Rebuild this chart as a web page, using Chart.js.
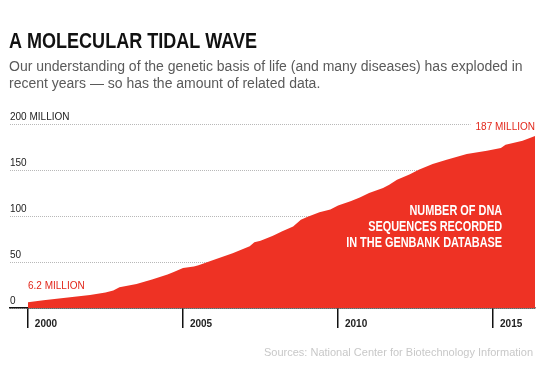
<!DOCTYPE html>
<html>
<head>
<meta charset="utf-8">
<script src="https://cdn.jsdelivr.net/npm/chart.js@4.4.1/dist/chart.umd.min.js"></script>
<style>
  html, body { margin: 0; padding: 0; background: #fff; }
  #wrap { position: relative; width: 545px; height: 380px; }
</style>
</head>
<body>
<div id="wrap"><canvas id="dnaChart" width="545" height="380"></canvas></div>
<script>
// GenBank sequences recorded (millions)
const years = [2000.0, 2000.5, 2001.0, 2001.5, 2002.0, 2002.5, 2002.75, 2002.95, 2003.5, 2003.75,
  2004.0, 2004.5, 2004.7, 2005.0, 2005.35, 2005.5, 2006.0, 2006.6, 2007.15, 2007.3,
  2007.5, 2007.9, 2008.2, 2008.55, 2008.8, 2009.0, 2009.4, 2009.75, 2010.0, 2010.4,
  2010.7, 2011.0, 2011.45, 2011.65, 2011.9, 2012.3, 2012.6, 2013.05, 2013.5, 2014.15,
  2014.8, 2015.25, 2015.4, 2015.95, 2016.35];
const sequences = [6.2, 8.3, 10.3, 12.2, 14.2, 16.8, 19.0, 22.5, 26.0, 28.5,
  31.0, 36.5, 39.0, 43.5, 45.0, 46.5, 52.5, 59.5, 67.0, 71.5,
  73.2, 78.6, 83.3, 88.5, 96.0, 99.0, 104.0, 107.0, 111.5, 116.0,
  120.0, 125.0, 130.5, 134.0, 139.5, 145.0, 150.3, 156.5, 161.2, 167.4,
  171.0, 173.9, 177.5, 181.8, 187.0];
const tickYears = [2000, 2005, 2010, 2015];
const yTicks = [0, 50, 100, 150, 200];
const yTickLabels = ['0', '50', '100', '150', '200 MILLION'];
const startLabel = '6.2 MILLION';
const endLabel = '187 MILLION';
const seriesLabel = ['NUMBER OF DNA', 'SEQUENCES RECORDED', 'IN THE GENBANK DATABASE'];

const RED = '#ee3224';
const LABEL_RED = '#e2271b';
const BOLD = 'bold {s}px "Liberation Sans", Arial, sans-serif';

// no condensed face installed, so squeeze Arial bold horizontally
function squeezed(ctx, text, x, y, sx) {
  ctx.save();
  ctx.translate(x, y);
  ctx.scale(sx, 1);
  ctx.fillText(text, 0, 0);
  ctx.restore();
}

const textLayer = {
  id: 'textLayer',
  afterDraw(chart) {
    const { ctx, chartArea, scales: { x, y } } = chart;
    ctx.save();

    // headline + dek
    ctx.textAlign = 'left';
    ctx.textBaseline = 'alphabetic';
    ctx.fillStyle = '#111';
    ctx.font = BOLD.replace('{s}', 22);
    const title = 'A MOLECULAR TIDAL WAVE';
    squeezed(ctx, title, 9, 48, 248 / ctx.measureText(title).width);
    ctx.fillStyle = '#5a5a5a';
    ctx.font = '14px "Liberation Sans", Arial, sans-serif';
    ctx.fillText('Our understanding of the genetic basis of life (and many diseases) has exploded in', 9, 71);
    ctx.fillText('recent years \u2014 so has the amount of related data.', 9, 87.5);

    // end label, knocks out the top gridline
    ctx.font = '10px "Liberation Sans", Arial, sans-serif';
    const yTop = y.getPixelForValue(yTicks[yTicks.length - 1]);
    const w = ctx.measureText(endLabel).width;
    ctx.fillStyle = '#fff';
    ctx.fillRect(chartArea.right - w - 5, yTop - 3, w + 6, 9);
    ctx.fillStyle = LABEL_RED;
    ctx.textAlign = 'right';
    ctx.textBaseline = 'middle';
    ctx.fillText(endLabel, chartArea.right, yTop + 3);

    // start label
    ctx.textAlign = 'left';
    ctx.fillText(startLabel, x.getPixelForValue(years[0]), y.getPixelForValue(sequences[0]) - 16);

    // series label inside the area
    ctx.fillStyle = '#fff';
    ctx.textAlign = 'right';
    ctx.font = BOLD.replace('{s}', 14);
    const sx = 156 / ctx.measureText(seriesLabel[2]).width;
    const lx = x.getPixelForValue(2015) + 9;
    const ly = y.getPixelForValue(100) - 4.5;
    seriesLabel.forEach((line, i) => squeezed(ctx, line, lx, ly + i * 16, sx));

    // source
    ctx.fillStyle = '#c8c8c8';
    ctx.textBaseline = 'alphabetic';
    ctx.font = '11px "Liberation Sans", Arial, sans-serif';
    ctx.fillText('Sources: National Center for Biotechnology Information', 533, 356);

    ctx.restore();
  }
};

new Chart(document.getElementById('dnaChart'), {
  type: 'line',
  data: {
    datasets: [{
      data: years.map((yr, i) => ({ x: yr, y: sequences[i] })),
      fill: 'origin',
      backgroundColor: RED,
      borderWidth: 0,
      pointRadius: 0,
      tension: 0
    }]
  },
  options: {
    responsive: false,
    animation: false,
    layout: { padding: { left: 10, right: 10, top: 124, bottom: 42 } },
    plugins: { legend: { display: false }, tooltip: { enabled: false } },
    scales: {
      x: {
        type: 'linear',
        min: 1999.42,
        max: 2016.35,
        z: 2,
        afterBuildTicks: s => { s.ticks = tickYears.map(v => ({ value: v })); },
        afterFit: s => { s.height = 30; },
        grid: { drawOnChartArea: false, drawTicks: true, tickLength: 20, color: '#111', lineWidth: 1.5 },
        border: { display: true, color: '#111', width: 1.5 },
        ticks: {
          autoSkip: false,
          maxRotation: 0,
          labelOffset: 18,
          padding: -10,
          color: '#222',
          font: { family: '"Liberation Sans", Arial, sans-serif', size: 10, weight: 'bold' },
          callback: v => String(v)
        }
      },
      y: {
        min: 0,
        max: 200,
        z: 1,
        afterBuildTicks: s => { s.ticks = yTicks.map(v => ({ value: v })); },
        afterFit: s => { s.width = 0; },
        grid: { color: 'rgba(0,0,0,0.28)', lineWidth: 1, drawTicks: false },
        border: { display: false, dash: [1, 1] },
        ticks: {
          mirror: true,
          padding: 0,
          labelOffset: -7,
          color: '#222',
          font: { family: '"Liberation Sans", Arial, sans-serif', size: 10 },
          callback: v => yTickLabels[yTicks.indexOf(v)]
        }
      }
    }
  },
  plugins: [textLayer]
});
</script>
</body>
</html>
